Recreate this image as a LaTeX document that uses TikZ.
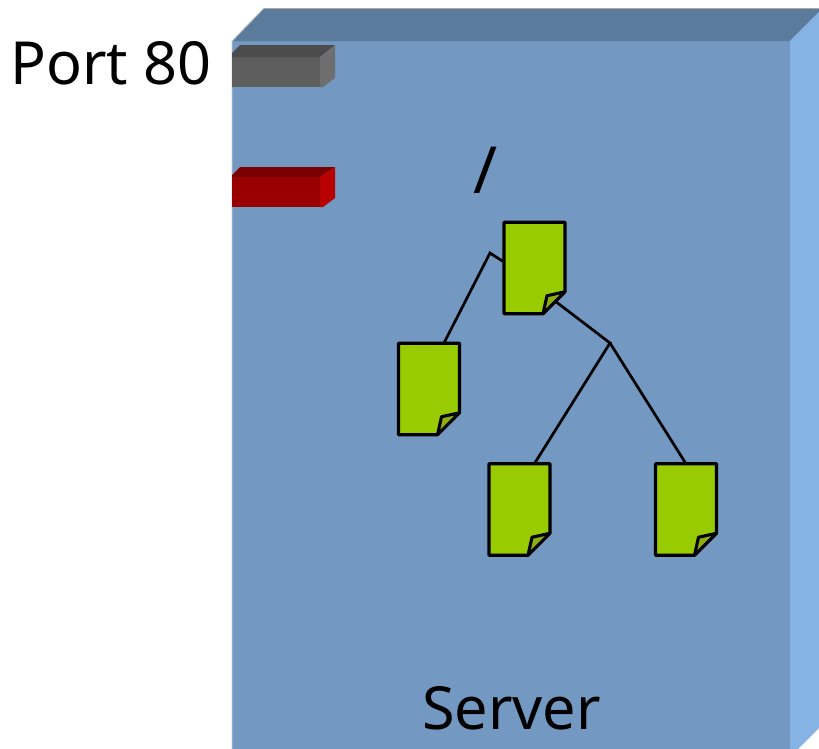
\documentclass[tikz,border=0pt]{standalone}
\usepackage{fontspec}
\setmainfont{Noto Sans}
\definecolor{serverfront}{HTML}{7399C3}
\definecolor{servertop}{HTML}{5B7B9C}
\definecolor{serverside}{HTML}{85B3E3}
\definecolor{pagegreen}{HTML}{99CC00}
\definecolor{pagefold}{HTML}{8DAE10}
\tikzset{
	docnode/.style={minimum width=61*0.02cm, minimum height=91.5*0.02cm, inner sep=0pt, outer sep=0pt},
	docline/.style={draw=black, line width=1.75pt, line join=round},
	treeline/.style={draw=black, line width=1.55pt},
	biglabel/.style={inner sep=0pt, text=black, font=\fontsize{33.8}{34}\selectfont}
}
% page with a turned corner, around a named node
\newcommand{\docpage}[3]{
	\node[docnode] (#1) at (#2,#3) {};
	\draw[docline, fill=pagegreen] (#1.north west) -- (#1.north east) -- ([yshift=22*0.02cm]#1.south east)
		-- ([xshift=-22*0.02cm]#1.south east) -- (#1.south west) -- cycle;
	\draw[docline, fill=pagefold] ([xshift=-22*0.02cm]#1.south east) -- ([xshift=-18*0.02cm,yshift=18*0.02cm]#1.south east)
		-- ([yshift=22*0.02cm]#1.south east) -- cycle;
}
\begin{document}
\begin{tikzpicture}[x=0.02cm, y=-0.02cm]
	\useasboundingbox (0,0) rectangle (819,748);
	\clip (0,0) rectangle (819,748);

	% Server box
	\fill[serverfront] (232,41) rectangle (790,760);
	\fill[servertop] (232,41) -- (264,8) -- (823,8) -- (790,41) -- cycle;
	\fill[serverside] (790,41) -- (823,8) -- (823,724) -- (790,757) -- cycle;
	\draw[gray!70, line width=0.5pt] (264,8) -- (823,8);
	\draw[gray!40, line width=0.5pt] (264,8) -- (232,41) -- (232,760);

	% Port 80 block
	\fill[black!63] (232,57) rectangle (320,87);
	\fill[black!63] (320,80) -- (323,87) -- (320,87) -- cycle;
	\fill[black!70] (232,57) -- (232,53) -- (240,45) -- (335,45) -- (320,57) -- cycle;
	\fill[black!57] (320,57) -- (335,45) -- (335,78) -- (323,87) -- (320,87) -- cycle;

	% second block
	\fill[red!60!black] (232,177) rectangle (320,207);
	\fill[red!48!black] (232,177) -- (232,175) -- (240,167) -- (335,167) -- (320,177) -- cycle;
	\fill[red!72!black] (320,177) -- (335,167) -- (335,198) -- (323,207) -- (320,207) -- cycle;

	% Labels
	\node[biglabel, anchor=base west] (portlabel) at (10,84) {Port 80};
	\node[biglabel, anchor=base, font=\fontsize{37}{37}\selectfont] (rootlabel) at (486,193) {/};
	\node[biglabel, anchor=base] (serverlabel) at (511.5,729) {Server};

	% Named tree ends
	\coordinate (forkleft) at (490,253);
	\coordinate (forkright) at (610,343);
	\coordinate (rootfold) at (555,301);

	% Pages
	\docpage{rootdoc}{534.5}{268}
	\docpage{leftdoc}{429}{389}
	\docpage{middoc}{519.5}{509.5}
	\docpage{rightdoc}{686}{509.5}

	% Connecting lines
	\draw[treeline] (rootdoc.169) -- (forkleft) -- (leftdoc.72);
	\draw[treeline] (rootfold) -- (forkright) -- (middoc.72);
	\draw[treeline] (forkright) -- (rightdoc.north);
\end{tikzpicture}
\end{document}
